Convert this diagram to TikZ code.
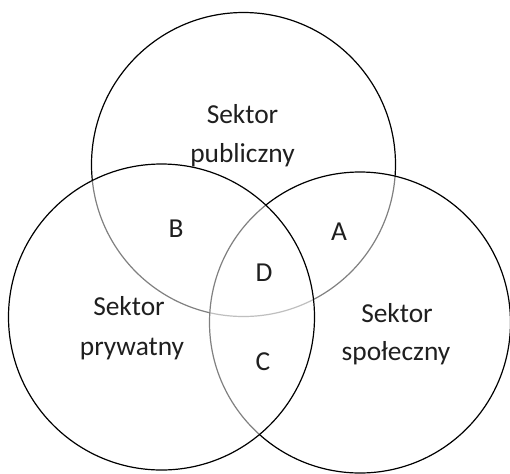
\documentclass[tikz,border=0pt]{standalone}
\usepackage{fontspec}
\setmainfont{Carlito}
\begin{document}
\begin{tikzpicture}[x=0.5pt,y=-0.5pt,
  ring/.style={draw=black,line width=0.6pt,fill=white,fill opacity=0.5},
  lbl/.style={anchor=base,inner sep=0pt,font=\fontsize{13.7}{16}\selectfont,text=black!88}]
\useasboundingbox (0,0) rectangle (510,473);
% circles, drawn back to front
\path[ring] (243.5,164.5) circle[radius=152];
\path[ring] (360,322.5) circle[radius=150.5];
\path[ring] (161.5,317) circle[radius=153];
% sector labels
\node[lbl] (pub1) at (242.5,123) {Sektor};
\node[lbl] (pub2) at (242.5,162) {publiczny};
\node[lbl] (pry1) at (129,315) {Sektor};
\node[lbl] (pry2) at (132,355) {prywatny};
\node[lbl] (spo1) at (397,322) {Sektor};
\node[lbl] (spo2) at (396,360) {społeczny};
% region letters
\node[lbl,anchor=center] (B) at (176,228.5) {B};
\node[lbl,anchor=center] (A) at (339,232) {A};
\node[lbl,anchor=center] (D) at (264,273) {D};
\node[lbl,anchor=center] (C) at (263,362) {C};
\end{tikzpicture}
\end{document}
